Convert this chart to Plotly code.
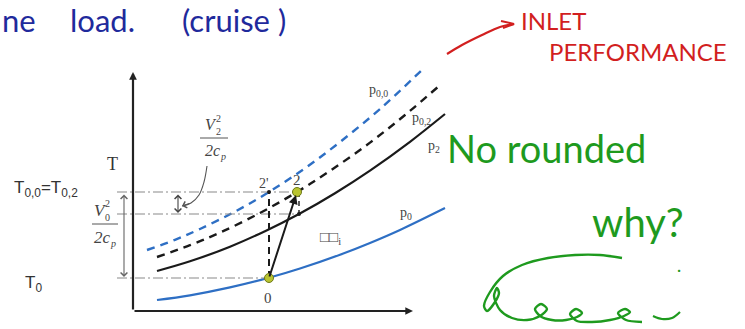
import plotly.graph_objects as go

W, H = 745, 329

# ---- isobars on the T-s sketch (x: entropy position, y: temperature position) ----
s_p00 = [147, 175, 200, 235, 269, 305, 340, 380, 423]
T_p00 = [250, 239.8, 229, 211.6, 192, 168.2, 142, 109, 69]

s_p02 = [157, 190, 220, 260, 297, 330, 370, 405, 439]
T_p02 = [257, 245.2, 232.6, 213, 192, 170.9, 142.6, 115, 86]

s_p2 = [157, 190, 230, 265, 299, 335, 370, 410, 445]
T_p2 = [271, 261.3, 246.7, 231.2, 214, 193.2, 170.6, 141.8, 114]

s_p0 = [157, 190, 230, 268, 300, 340, 370, 400, 445]
T_p0 = [300, 295.3, 287.4, 278, 268.5, 254.7, 242.9, 229.9, 208]

# state points: 0 (free stream), 2 (diffuser exit), 2' (isentropic), 2s (static at exit)
pt0 = (269, 278)
pt2 = (297, 192)
pt2i = (269, 192)
pt2s = (299, 214)

# temperature levels
T00_level = 192
T2_level = 214
T0_level = 278

# axes frame
axis_origin = (133, 311)
axis_top = 72
axis_right = 413

INK = "#222222"
GREY = "#8a8a8a"
SERIF = "Liberation Serif, DejaVu Serif, serif"
SANS = "Liberation Sans, Arial, sans-serif"
HAND = "Lato, Noto Sans, sans-serif"

fig = go.Figure()

# isobars
fig.add_trace(go.Scatter(x=s_p00, y=T_p00, mode="lines", line=dict(color="#2e6fc4", width=2.4, dash="8px,6px", shape="spline"), hoverinfo="skip"))
fig.add_trace(go.Scatter(x=s_p02, y=T_p02, mode="lines", line=dict(color="#1a1a1a", width=2.4, dash="8px,6px", shape="spline"), hoverinfo="skip"))
fig.add_trace(go.Scatter(x=s_p2, y=T_p2, mode="lines", line=dict(color="#1a1a1a", width=2.2, shape="spline"), hoverinfo="skip"))
fig.add_trace(go.Scatter(x=s_p0, y=T_p0, mode="lines", line=dict(color="#2e6fc4", width=2.2, shape="spline"), hoverinfo="skip"))

# dash-dot temperature levels
for lvl, xend in [(T00_level, pt2[0]), (T2_level, pt2s[0]), (T0_level, pt0[0])]:
    fig.add_trace(go.Scatter(x=[117, xend], y=[lvl, lvl], mode="lines",
                             line=dict(color=GREY, width=1.1, dash="10px,3px,2px,3px"), hoverinfo="skip"))

# isentropic line 0 -> 2' and short drop 2 -> 2s
fig.add_trace(go.Scatter(x=[pt0[0], pt2i[0]], y=[pt0[1], pt2i[1]], mode="lines",
                         line=dict(color="#1a1a1a", width=2, dash="7px,5px"), hoverinfo="skip"))
fig.add_trace(go.Scatter(x=[pt2[0] + 2, pt2s[0]], y=[pt2[1], pt2s[1]], mode="lines",
                         line=dict(color="#1a1a1a", width=1.4, dash="5px,4px"), hoverinfo="skip"))

# leader for V2^2/2cp
lead_x = [207, 204, 199, 191, 182]
lead_y = [166, 182, 195, 203, 206]
fig.add_trace(go.Scatter(x=lead_x, y=lead_y, mode="lines", line=dict(color="#555555", width=1.1, shape="spline"), hoverinfo="skip"))

# small dots at 2' and 2s
fig.add_trace(go.Scatter(x=[pt2i[0], pt2s[0]], y=[pt2i[1], pt2s[1]], mode="markers",
                         marker=dict(color="#1a1a1a", size=4), hoverinfo="skip"))

annotations = []

def arrow(x, y, ax, ay, color=INK, width=1.5, head=2, size=1.0, side="end"):
    annotations.append(dict(x=x, y=y, ax=ax, ay=ay, xref="x", yref="y", axref="x", ayref="y",
                            showarrow=True, arrowhead=head, arrowsize=size, arrowwidth=width,
                            arrowcolor=color, arrowside=side, text="", font=dict(size=10)))

# process line 0 -> 2
arrow(pt2[0] - 1, pt2[1] + 3, pt0[0], pt0[1], color="#1a1a1a", width=2, head=2, size=0.9)
# axes
arrow(axis_origin[0], axis_top, axis_origin[0], axis_origin[1], color="#222", width=2.2, head=2, size=0.7)
arrow(axis_right, axis_origin[1], axis_origin[0], axis_origin[1], color="#222", width=2.2, head=2, size=0.7)
# kinetic-energy brackets
arrow(124, T0_level - 1, 124, T00_level + 1, color="#666", width=1.1, head=4, size=1.2, side="end+start")
arrow(178, T2_level - 1, 178, T00_level + 1, color="#444", width=1.1, head=4, size=1.2, side="end+start")
# leader head
arrow(lead_x[-1], lead_y[-1], lead_x[-2], lead_y[-2], color="#555", width=1.1, head=4, size=1.2)

# state points
fig.add_trace(go.Scatter(x=[pt0[0], pt2[0]], y=[pt0[1], pt2[1]], mode="markers",
                         marker=dict(color="#b9c431", size=9, line=dict(color="#6f7a18", width=1)), hoverinfo="skip"))

def text(x, y, s, size=14, color="#444", family=SERIF, xanchor="center", yanchor="middle"):
    annotations.append(dict(x=x, y=y, xref="x", yref="y", text=s, showarrow=False,
                            font=dict(size=size, color=color, family=family),
                            xanchor=xanchor, yanchor=yanchor))

# isobar labels
text(378, 90, "p<sub>0,0</sub>", 14)
text(421, 118, "p<sub>0,2</sub>", 14)
text(434, 146, "p<sub>2</sub>", 14)
text(406, 213, "p<sub>0</sub>", 14)
# state labels
text(264, 183, "2'", 14)
text(297, 180, "2", 15)
text(268, 298, "0", 15)
text(330, 238, "□□<sub>i</sub>", 15)

# axis and temperature labels
text(112, 164, "T", 18, color="#333")
text(12, 189, "T<sub>0,0</sub>=T<sub>0,2</sub>", 17, color="#333", family=SANS, xanchor="left")
text(33, 284, "T<sub>0</sub>", 17, color="#333", family=SANS)

# V0^2 / 2cp
text(100, 210, "<i>V</i>", 17)
text(107, 203, "2", 10)
text(107, 217, "0", 10)
text(102, 237, "<i>2c</i>", 17)
text(113, 243, "<i>p</i>", 10)
# V2^2 / 2cp
text(211, 124, "<i>V</i>", 16)
text(218, 118, "2", 10)
text(218, 131, "2", 10)
text(212, 150, "<i>2c</i>", 16)
text(223, 156, "<i>p</i>", 10)

shapes = [
    dict(type="line", xref="x", yref="y", x0=92, x1=118, y0=224, y1=224, line=dict(color="#555", width=1)),
    dict(type="line", xref="x", yref="y", x0=200, x1=228, y0=138, y1=138, line=dict(color="#555", width=1)),
]

# handwritten notes
text(0, 20, "ne", 31, color="#1f2a9c", family=HAND, xanchor="left")
text(68, 20, "load.", 31, color="#1f2a9c", family=HAND, xanchor="left")
text(180, 20, "(cruise )", 31, color="#1f2a9c", family=HAND, xanchor="left")

text(553, 20, "INLET", 24, color="#d21f1f", family=HAND)
text(638, 51, "PERFORMANCE", 24, color="#d21f1f", family=HAND)
red_x = [447, 462, 482, 500, 514]
red_y = [54, 45, 35, 27, 24]
fig.add_trace(go.Scatter(x=red_x, y=red_y, mode="lines", line=dict(color="#d21f1f", width=2.2, shape="spline"), hoverinfo="skip"))
fig.add_trace(go.Scatter(x=[501, 514, 503], y=[21, 24, 28], mode="lines", line=dict(color="#d21f1f", width=2), hoverinfo="skip"))

text(546, 148, "No rounded", 38, color="#1e9a1e", family=HAND)
text(638, 222, "why?", 40, color="#1e9a1e", family=HAND)
text(679, 268, "·", 16, color="#1e9a1e", family=HAND)

# green scribble
g_x = [622, 600, 575, 548, 522, 503, 490, 484, 487, 495, 499, 497, 494, 500, 512, 527, 540, 547, 541, 535, 540, 552, 566, 577, 582, 576, 570, 577, 592, 610, 624, 630, 625, 618, 626, 642]
g_y = [258, 255, 255, 258, 265, 276, 292, 306, 311, 302, 293, 288, 296, 310, 318, 320, 316, 309, 304, 309, 316, 320, 320, 317, 313, 309, 314, 321, 322, 320, 316, 312, 309, 313, 320, 322]
fig.add_trace(go.Scatter(x=g_x, y=g_y, mode="lines", line=dict(color="#1e9a1e", width=2.4, shape="spline", smoothing=0.8), hoverinfo="skip"))
fig.add_trace(go.Scatter(x=[653, 662, 672, 680], y=[316, 319, 318, 312], mode="lines", line=dict(color="#1e9a1e", width=2.2, shape="spline"), hoverinfo="skip"))

fig.update_layout(
    width=W, height=H, margin=dict(l=0, r=0, t=0, b=0),
    paper_bgcolor="white", plot_bgcolor="white", showlegend=False,
    xaxis=dict(range=[0, W], visible=False, fixedrange=True),
    yaxis=dict(range=[H, 0], visible=False, fixedrange=True),
    annotations=annotations, shapes=shapes,
)

fig.write_html("out.html")
